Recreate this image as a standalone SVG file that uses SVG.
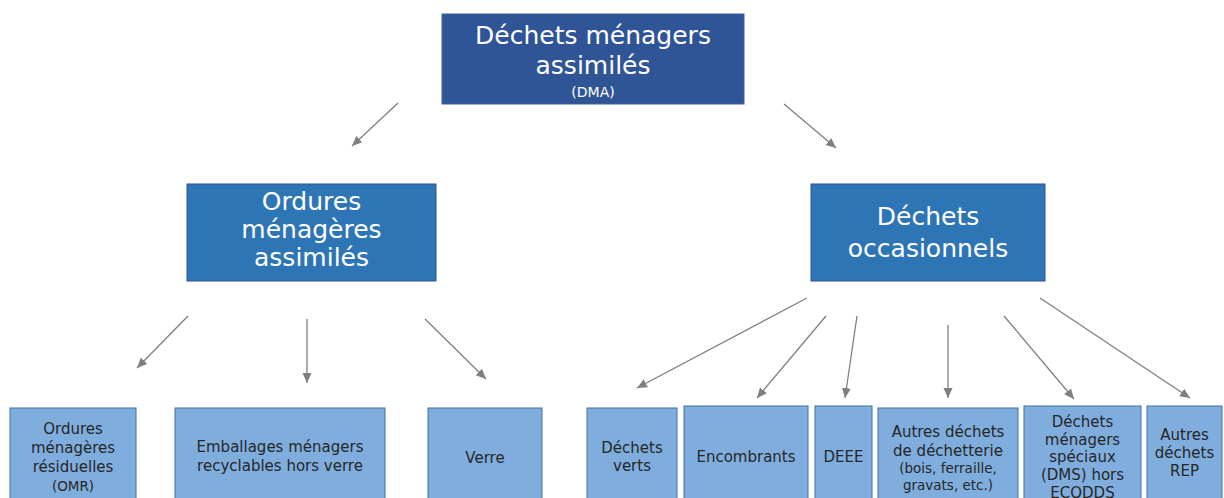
<svg xmlns="http://www.w3.org/2000/svg" width="1224" height="498" viewBox="0 0 1224 498">
<style>
text{font-family:"DejaVu Sans","Liberation Sans",sans-serif;text-anchor:middle}
.top rect{fill:#2F5597;stroke:#41619a;stroke-width:1}
.mid rect{fill:#2E75B6;stroke:#2F5597;stroke-width:1}
.top text,.mid text{fill:#ffffff;font-size:25px}
.leaf rect{fill:#7FAEDE;stroke:#41719C;stroke-width:1}
.leaf text{fill:#262626;font-size:15px}
.leaf text.s{font-size:13.5px}
.conn line{stroke:#7f7f7f;stroke-width:1.3;marker-end:url(#ah)}
</style>
<defs>
<marker id="ah" markerUnits="userSpaceOnUse" markerWidth="12" markerHeight="10" refX="10" refY="4.5" orient="auto">
<path d="M0,0 L10,4.5 L0,9 Z" fill="#7f7f7f"/>
</marker>
</defs>
<rect width="1224" height="498" fill="#ffffff"/>
<g id="n-dma" class="top">
<rect x="442" y="14" width="302" height="90"/>
<text x="593" y="44">Déchets ménagers</text>
<text x="593" y="74">assimilés</text>
<text x="593" y="97" style="font-size:14px">(DMA)</text>
</g>
<g id="n-oma" class="mid">
<rect x="187" y="184" width="249" height="97"/>
<text x="311.5" y="210">Ordures</text>
<text x="311.5" y="238">ménagères</text>
<text x="311.5" y="266">assimilés</text>
</g>
<g id="n-occ" class="mid">
<rect x="811" y="184" width="234" height="97"/>
<text x="928" y="225">Déchets</text>
<text x="928" y="257">occasionnels</text>
</g>
<g id="n-omr" class="leaf">
<rect x="10" y="408" width="126" height="110"/>
<text x="73" y="434">Ordures</text>
<text x="73" y="453">ménagères</text>
<text x="73" y="472">résiduelles</text>
<text x="73" y="491" class="s">(OMR)</text>
</g>
<g id="n-emb" class="leaf">
<rect x="175" y="408" width="210" height="110"/>
<text x="280" y="452">Emballages ménagers</text>
<text x="280" y="471">recyclables hors verre</text>
</g>
<g id="n-verre" class="leaf">
<rect x="428" y="408" width="114" height="110"/>
<text x="485" y="463">Verre</text>
</g>
<g id="n-verts" class="leaf">
<rect x="587" y="408" width="90" height="110"/>
<text x="632" y="453">Déchets</text>
<text x="632" y="471">verts</text>
</g>
<g id="n-enc" class="leaf">
<rect x="684" y="406" width="124" height="110"/>
<text x="746" y="462">Encombrants</text>
</g>
<g id="n-deee" class="leaf">
<rect x="815" y="406" width="57" height="110"/>
<text x="843.5" y="462">DEEE</text>
</g>
<g id="n-autres" class="leaf">
<rect x="878" y="408" width="140" height="110"/>
<text x="948" y="437">Autres déchets</text>
<text x="948" y="456">de déchetterie</text>
<text x="948" y="473" class="s">(bois, ferraille,</text>
<text x="948" y="490" class="s">gravats, etc.)</text>
</g>
<g id="n-dms" class="leaf">
<rect x="1024" y="406" width="117" height="110"/>
<text x="1082.5" y="427">Déchets</text>
<text x="1082.5" y="445">ménagers</text>
<text x="1082.5" y="462">spéciaux</text>
<text x="1082.5" y="480">(DMS) hors</text>
<text x="1082.5" y="498">ECODDS</text>
</g>
<g id="n-rep" class="leaf">
<rect x="1147" y="406" width="75" height="110"/>
<text x="1184.5" y="440">Autres</text>
<text x="1184.5" y="458">déchets</text>
<text x="1184.5" y="476">REP</text>
</g>
<g id="connectors" class="conn">
<line x1="398" y1="103" x2="352" y2="146"/>
<line x1="784" y1="104" x2="836" y2="148"/>
<line x1="188" y1="316" x2="137" y2="368"/>
<line x1="307" y1="319" x2="307" y2="383"/>
<line x1="425" y1="319" x2="486" y2="379"/>
<line x1="807" y1="298" x2="637" y2="388"/>
<line x1="826" y1="316" x2="757" y2="398"/>
<line x1="857" y1="316" x2="845" y2="398"/>
<line x1="948" y1="325" x2="948" y2="398"/>
<line x1="1004" y1="316" x2="1074" y2="399"/>
<line x1="1040" y1="298" x2="1190" y2="398"/>
</g>
</svg>
